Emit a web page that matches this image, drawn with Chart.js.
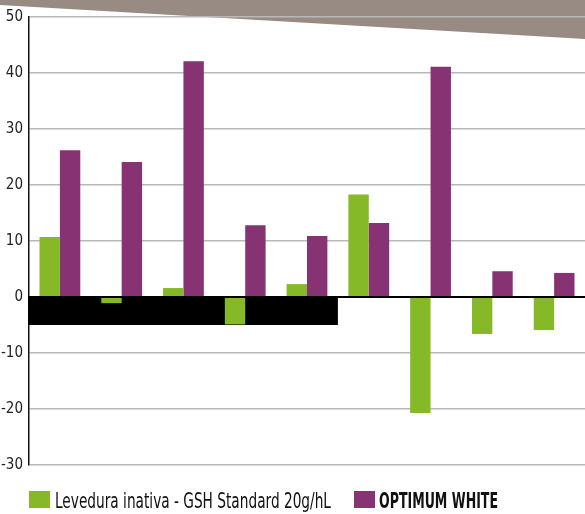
<!DOCTYPE html>
<html><head><meta charset="utf-8">
<script src="https://cdn.jsdelivr.net/npm/chart.js@4/dist/chart.umd.min.js"></script>
<style>html,body{margin:0;padding:0;background:#fff;overflow:hidden}#wrap{width:585px;height:514px;position:relative}</style>
</head><body><div id="wrap"><canvas id="c"></canvas></div>
<script>
// ---- data ----
const categories = ['1','2','3','4','5','6','7','8','9'];
const seriesNames = ['Levedura inativa - GSH Standard 20g/hL', 'OPTIMUM WHITE'];
const levedura = [10.7, -1.1, 1.6, -4.9, 2.3, 18.3, -20.7, -6.6, -5.9];
const optimum  = [26.2, 24.1, 42.1, 12.8, 10.9, 13.2, 41.1, 4.6, 4.3];
const yTicks = [-30, -20, -10, 0, 10, 20, 30, 40, 50];
const maskCategoryRange = [0, 4];   // categories covered by the black band
const maskValueRange = [0, -5];     // value span of the black band

const GREEN = '#85b927', PURPLE = '#873272';
const FONT = '"Liberation Sans Narrow","DejaVu Sans Condensed","Liberation Sans",sans-serif';

const bandPlugin = {
  id: 'topBand',
  beforeDraw(chart) {
    const ctx = chart.ctx, w = chart.width;
    ctx.save();
    ctx.fillStyle = '#978b83';
    ctx.beginPath();
    ctx.moveTo(0, 0); ctx.lineTo(w, 0); ctx.lineTo(w, 39); ctx.lineTo(0, 5); ctx.closePath();
    ctx.fill();
    ctx.restore();
  }
};

const maskPlugin = {
  id: 'blackMask',
  beforeDatasetsDraw(chart) {
    const x = chart.scales.x, y = chart.scales.y, ctx = chart.ctx;
    const half = (x.getPixelForValue(1) - x.getPixelForValue(0)) / 2;
    const x0 = x.getPixelForValue(maskCategoryRange[0]) - half;
    const x1 = x.getPixelForValue(maskCategoryRange[1]) + half;
    const y0 = y.getPixelForValue(maskValueRange[0]);
    const y1 = y.getPixelForValue(maskValueRange[1]);
    ctx.save();
    ctx.fillStyle = '#000';
    ctx.fillRect(x0 - 1, y0 - 1, x1 - x0 + 1, y1 - y0 + 1);
    ctx.restore();
  }
};

const legendPlugin = {
  id: 'customLegend',
  afterDraw(chart) {
    const ctx = chart.ctx;
    const slots = [
      {box: 29, text: 55, maxW: 276, bold: false},
      {box: 354, text: 379, maxW: 119, bold: true}
    ];
    chart.data.datasets.forEach((ds, i) => {
      const s = slots[i];
      ctx.save();
      ctx.fillStyle = ds.backgroundColor;
      ctx.fillRect(s.box, 491, 21, 17);
      ctx.fillStyle = '#111';
      ctx.font = (s.bold ? 'bold ' : '') + '21px ' + FONT;
      ctx.textBaseline = 'alphabetic';
      ctx.textAlign = 'left';
      ctx.fillText(ds.label, s.text, 507.5, s.maxW);
      ctx.restore();
    });
  }
};

new Chart(document.getElementById('c'), {
  type: 'bar',
  data: {
    labels: categories,
    datasets: [
      {label: seriesNames[0], data: levedura, backgroundColor: GREEN},
      {label: seriesNames[1], data: optimum, backgroundColor: PURPLE}
    ]
  },
  options: {
    responsive: true,
    maintainAspectRatio: false,
    animation: false,
    categoryPercentage: 0.66,
    barPercentage: 1,
    layout: {padding: {top: 17, bottom: 49, left: 0, right: 0}},
    plugins: {legend: {display: false}, tooltip: {enabled: false}},
    scales: {
      x: {display: false},
      y: {
        min: -30, max: 50,
        afterBuildTicks: (s) => { s.ticks = yTicks.map(v => ({value: v})); },
        afterFit: (s) => { s.width = 29; },
        border: {display: true, color: '#111', width: 1.5},
        grid: {
          drawTicks: false,
          color: (c) => c.tick && c.tick.value === 0 ? '#000' : '#b8b8b8',
          lineWidth: (c) => c.tick && c.tick.value === 0 ? 2 : 1.5
        },
        ticks: {
          padding: 6,
          color: '#222',
          font: {family: FONT, size: 15}
        }
      }
    }
  },
  plugins: [bandPlugin, maskPlugin, legendPlugin]
});
</script>
</body></html>
